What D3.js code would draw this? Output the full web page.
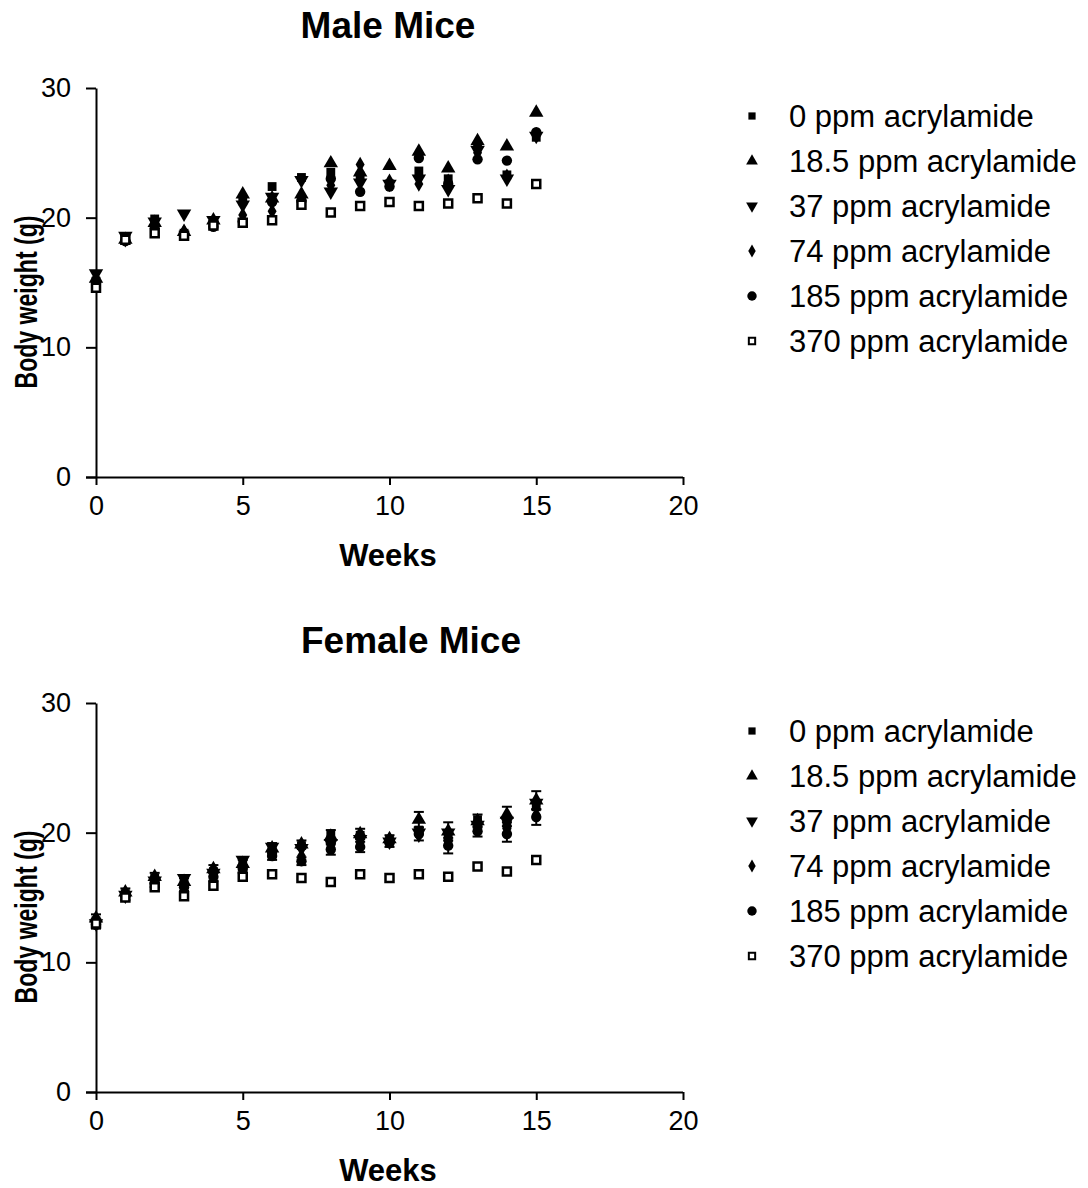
<!DOCTYPE html>
<html><head><meta charset="utf-8">
<script src="https://cdn.jsdelivr.net/npm/d3@7"></script>
<style>body{margin:0;background:#fff;} svg{display:block;font-family:"Liberation Sans",Arial,sans-serif;}</style>
</head><body>
<svg id="c" width="1088" height="1188"></svg>
<script>
const weeks = [0,1,2,3,4,5,6,7,8,9,10,11,12,13,14,15];
const seriesNames = ["0 ppm acrylamide","18.5 ppm acrylamide","37 ppm acrylamide","74 ppm acrylamide","185 ppm acrylamide","370 ppm acrylamide"];
const xTicks = [0,5,10,15,20];
const yTicks = [0,10,20,30];

const male0   = [15.1,18.4,19.9,18.8,19.7,21.3,22.4,23.1,23.5,23.2,22.6,23.6,23.0,25.5,23.3,26.2];
const male18  = [15.3,18.3,19.6,18.9,19.8,21.8,21.5,21.8,24.2,23.5,24.0,25.1,23.8,25.9,25.5,28.1];
const male37  = [15.7,18.6,19.7,20.3,19.8,21.0,21.6,22.9,22.0,22.7,22.6,23.0,22.2,25.2,23.0,26.3];
const male74  = [15.2,18.3,19.4,18.9,19.5,20.2,20.5,21.5,22.5,24.1,22.8,22.6,22.8,25.0,23.2,26.4];
const male185 = [15.0,18.2,19.3,18.7,19.3,19.7,21.2,21.3,23.0,22.0,22.4,24.6,22.6,24.5,24.4,26.6];
const male370 = [14.6,18.3,18.8,18.6,19.4,19.6,19.8,21.0,20.4,20.9,21.2,20.9,21.1,21.5,21.1,22.6];

const female0   = [13.2,15.3,16.5,16.4,17.0,17.8,18.6,19.0,19.9,19.8,19.5,20.2,19.6,21.0,20.6,22.0];
const female18  = [13.4,15.4,16.6,16.2,17.2,17.6,18.8,19.1,19.7,19.9,19.5,21.0,20.1,20.9,21.4,22.5];
const female37  = [13.0,15.2,16.3,16.5,16.9,17.9,18.9,18.8,19.2,19.5,19.3,20.0,20.0,20.6,20.9,22.3];
const female74  = [13.1,15.1,16.2,16.0,16.8,17.3,18.4,18.2,19.0,19.2,19.4,19.8,19.3,20.3,20.3,21.4];
const female185 = [12.9,15.1,16.1,15.8,16.6,17.2,18.2,17.8,18.7,18.9,19.2,19.9,19.0,20.1,19.9,21.2];
const female370 = [13.0,15.0,15.8,15.1,15.9,16.6,16.8,16.5,16.2,16.8,16.5,16.8,16.6,17.4,17.0,17.9];
const femaleErr18  = [0.3,0.3,0.3,0.3,0.3,0.3,0.4,0.3,0.5,0.4,0.3,0.6,0.7,0.5,0.6,0.7];
const femaleErr185 = [0.3,0.3,0.3,0.3,0.3,0.3,0.3,0.3,0.4,0.4,0.3,0.5,0.6,0.4,0.6,0.6];

const symbolTypes = [d3.symbolSquare, d3.symbolTriangle, d3.symbolTriangle, d3.symbolDiamond, d3.symbolCircle, d3.symbolSquare];
const symbolRot = [0,0,180,0,0,0];
const symbolSize = [78,90,90,70,85,64];
const legendSize = [52,60,60,48,70,40];
const symbolOpen = [false,false,false,false,false,true];

const svg = d3.select("#c");
const font = '"Liberation Sans",Arial,sans-serif';

function panel(top, title, titleX, data, errs) {
  const x = d3.scaleLinear().domain([0,20]).range([96,683]);
  const y = d3.scaleLinear().domain([0,30]).range([top+389, top]);
  const g = svg.append("g");

  g.append("text").attr("x", titleX).attr("y", top-50)
    .attr("text-anchor","middle").attr("font-weight","bold").attr("font-size",37).text(title);

  const ya = g.append("g").attr("transform","translate(96,0)")
    .call(d3.axisLeft(y).tickValues(yTicks).tickSize(10).tickSizeOuter(0).tickPadding(15));
  const xa = g.append("g").attr("transform",`translate(0,${top+389})`)
    .call(d3.axisBottom(x).tickValues(xTicks).tickSize(8).tickSizeOuter(0).tickPadding(11));
  [ya,xa].forEach(a=>{
    a.selectAll(".domain").attr("stroke","#000").attr("stroke-width",2);
    a.selectAll(".tick line").attr("stroke","#000").attr("stroke-width",2);
    a.selectAll("text").attr("font-size",27).attr("font-family",font).attr("fill","#000");
  });
  xa.select(".domain").attr("d", `M86,0.5H683`);

  g.append("text").attr("x",388).attr("y",top+478).attr("text-anchor","middle")
    .attr("font-weight","bold").attr("font-size",31).text("Weeks");
  g.append("text").attr("transform",`translate(37,${top+214}) rotate(-90)`).attr("text-anchor","middle")
    .attr("font-weight","bold").attr("font-size",32)
    .attr("textLength",173).attr("lengthAdjust","spacingAndGlyphs").text("Body weight (g)");

  errs.forEach(([si, e]) => {
    const eg = g.append("g");
    weeks.forEach((w,i)=>{
      const cx = x(w), y1 = y(data[si][i]+e[i]), y2 = y(data[si][i]-e[i]);
      eg.append("line").attr("x1",cx).attr("x2",cx).attr("y1",y1).attr("y2",y2).attr("stroke","#000").attr("stroke-width",2);
      eg.append("line").attr("x1",cx-5).attr("x2",cx+5).attr("y1",y1).attr("y2",y1).attr("stroke","#000").attr("stroke-width",2);
      eg.append("line").attr("x1",cx-5).attr("x2",cx+5).attr("y1",y2).attr("y2",y2).attr("stroke","#000").attr("stroke-width",2);
    });
  });

  data.forEach((vals, si) => {
    const sym = d3.symbol().type(symbolTypes[si]).size(symbolSize[si]);
    g.append("g").selectAll("path").data(weeks).join("path")
      .attr("d", sym)
      .attr("transform", (w,i)=>`translate(${x(w)},${y(vals[i])}) rotate(${symbolRot[si]})`)
      .attr("fill", symbolOpen[si] ? "#fff" : "#000")
      .attr("stroke", symbolOpen[si] ? "#000" : "none")
      .attr("stroke-width", 2.5);
  });

  const lg = g.append("g");
  seriesNames.forEach((name, si) => {
    const cy = top + 28 + si*45;
    const sym = d3.symbol().type(symbolTypes[si]).size(legendSize[si]);
    lg.append("path").attr("d", sym)
      .attr("transform", `translate(752,${cy}) rotate(${symbolRot[si]})`)
      .attr("fill", symbolOpen[si] ? "#fff" : "#000")
      .attr("stroke", symbolOpen[si] ? "#000" : "none").attr("stroke-width",2);
    lg.append("text").attr("x",789).attr("y",cy+11).attr("font-size",31).attr("fill","#000").text(name);
  });
}

panel(88, "Male Mice", 388, [male0,male18,male37,male74,male185,male370], []);
panel(703, "Female Mice", 411, [female0,female18,female37,female74,female185,female370], [[1,femaleErr18],[4,femaleErr185]]);
</script>
</body></html>
